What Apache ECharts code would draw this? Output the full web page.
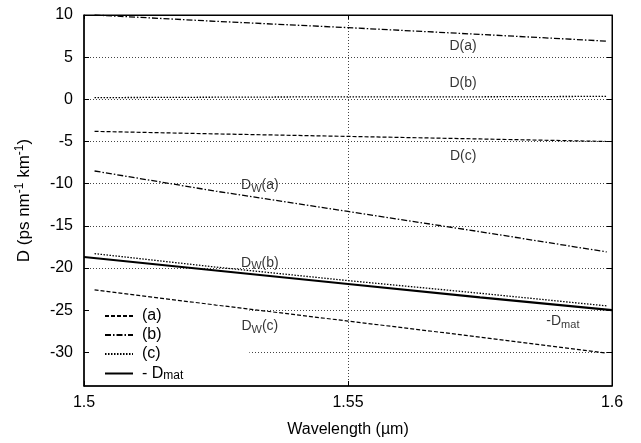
<!DOCTYPE html>
<html>
<head>
<meta charset="utf-8">
<script src="https://cdn.jsdelivr.net/npm/echarts@6/dist/echarts.min.js"></script>
<style>html,body{margin:0;padding:0;background:#fff}#c{width:641px;height:443px}</style>
</head>
<body>
<div id="c"></div>
<script>
// Wavelength (µm) sample points
const wlCurves = [1.502, 1.525, 1.55, 1.575, 1.599];
const wlMat = [1.5, 1.525, 1.55, 1.575, 1.6];
// D values (ps nm^-1 km^-1)
const dashDotUpper = [10.0, 9.25, 8.5, 7.7, 6.9];      // D(a)
const dottedUpper = [0.2, 0.25, 0.3, 0.3, 0.35];        // D(b)
const dashedUpper = [-3.8, -4.1, -4.4, -4.7, -5.0];     // D(c)
const dashDotLower = [-8.5, -10.9, -13.3, -15.7, -18.1]; // DW(a)
const dottedLower = [-18.3, -19.9, -21.5, -23.0, -24.5]; // DW(b)
const dashedLower = [-22.6, -24.4, -26.3, -28.2, -30.1]; // DW(c)
const minusDmat = [-18.7, -20.3, -21.9, -23.5, -25.0];   // -Dmat

const yTicks = [-30, -25, -20, -15, -10, -5, 0, 5, 10];
const yGrid = [-30, -25, -20, -15, -10, -5, 0, 5];
const xTicks = [1.5, 1.55, 1.6];
const xGrid = [1.55];

const curveLabelText = ['D(a)', 'D(b)', 'D(c)', '{m|D}{sub|W}{m|(a)}', '{m|D}{sub|W}{m|(b)}', '{m|D}{sub|W}{m|(c)}', '{m|-D}{sub|mat}'];
const curveLabelX = [1.5718, 1.5718, 1.5718, 1.5333, 1.5333, 1.5333, 1.5907];
const curveLabelY = [6.34, 1.86, -6.75, -10.2, -19.4, -26.9, -26.3];

const FONT = 'Liberation Sans, Arial, Helvetica, sans-serif';
const richSub = {
  m: {fontSize: 14, fontFamily: FONT, color: '#000', lineHeight: 16},
  sub: {fontSize: 11, fontFamily: FONT, color: '#000', padding: [7, 0, 0, 0], lineHeight: 16}
};

const DASH = [4, 2];
const DASHDOT = [6, 2, 1.5, 2];
const DOT = [1.5, 1.5];

function pairs(xs, ys) { return xs.map((x, i) => [x, ys[i]]); }

function lineSeries(name, xs, ys, type, width) {
  return {
    name: name, type: 'line', data: pairs(xs, ys), showSymbol: false, symbol: 'none',
    lineStyle: {color: '#000', width: width, type: type}, itemStyle: {color: '#000'},
    silent: true, z: 12
  };
}

const chart = echarts.init(document.getElementById('c'), null, {renderer: 'canvas'});

const series = [
  lineSeries('(b)', wlCurves, dashDotUpper, DASHDOT, 1.3),
  lineSeries('(c)', wlCurves, dottedUpper, DOT, 1.3),
  lineSeries('(a)', wlCurves, dashedUpper, DASH, 1.2),
  lineSeries('(b)', wlCurves, dashDotLower, DASHDOT, 1.3),
  lineSeries('(c)', wlCurves, dottedLower, DOT, 1.3),
  lineSeries('(a)', wlCurves, dashedLower, DASH, 1.2),
  lineSeries('- Dmat', wlMat, minusDmat, 'solid', 2.2),
  {
    name: 'grid', type: 'line', data: [], silent: true, z: 1,
    markLine: {
      silent: true, symbol: 'none', label: {show: false}, animation: false, z: 1,
      lineStyle: {color: '#444', width: 1, type: [1, 2]},
      data: yGrid.map(v => ({yAxis: v})).concat(xGrid.map(v => ({xAxis: v})))
    }
  },
  {
    name: 'labels', type: 'scatter', symbolSize: 0, silent: true, z: 12,
    data: curveLabelText.map((t, i) => ({value: [curveLabelX[i], curveLabelY[i]], name: t})),
    label: {
      show: true, position: 'inside', color: '#000', formatter: p => p.name.indexOf('{') >= 0 ? p.name : '{m|' + p.name + '}',
      rich: richSub
    }
  }
];

chart.setOption({
  animation: false,
  backgroundColor: '#fff',
  grid: {left: 84, right: 29, top: 15, bottom: 56, show: true, borderColor: '#000', borderWidth: 1},
  legend: {
    data: ['(a)', '(b)', '(c)', '- Dmat'],
    orient: 'vertical', left: 87, top: 306,
    padding: [2, 66, 0, 17],
    backgroundColor: '#fff',
    itemWidth: 28, itemHeight: 2, itemGap: 3,
    itemStyle: {color: 'rgba(0,0,0,0)', borderColor: 'rgba(0,0,0,0)', borderWidth: 0},
    textStyle: {fontFamily: FONT, fontSize: 16, color: '#000', rich: {
      m: {fontSize: 16, fontFamily: FONT, color: '#000', lineHeight: 16, padding: [0, 0, 0, 4]},
      sub: {fontSize: 12, fontFamily: FONT, color: '#000', padding: [5, 0, 0, 0], lineHeight: 16}
    }},
    formatter: n => n === '- Dmat' ? '{m|- D}{sub|mat}' : '{m|' + n + '}',
    z: 6
  },
  xAxis: [{
    type: 'value', min: 1.5, max: 1.6, position: 'bottom', z: 20,
    name: 'Wavelength (µm)', nameLocation: 'middle', nameGap: 36,
    nameTextStyle: {fontFamily: FONT, fontSize: 16, color: '#000'},
    axisLine: {show: true, onZero: false, lineStyle: {color: '#000', width: 1.5}},
    axisTick: {show: true, inside: true, length: 5, customValues: xTicks, lineStyle: {color: '#000'}},
    axisLabel: {customValues: xTicks, fontFamily: FONT, fontSize: 16, color: '#000', margin: 9, formatter: v => String(v)},
    splitLine: {show: false}
  }, {
    type: 'value', min: 1.5, max: 1.6, position: 'top', z: 20,
    axisLine: {show: true, onZero: false, lineStyle: {color: '#000', width: 1}},
    axisTick: {show: true, inside: true, length: 4, customValues: xTicks, lineStyle: {color: '#000'}},
    axisLabel: {show: false}, splitLine: {show: false}
  }],
  yAxis: [{
    type: 'value', min: -34, max: 10, position: 'left', z: 20,
    name: 'D (ps nm{sup|-1} km{sup|-1})', nameLocation: 'middle', nameGap: 50, nameRotate: 90,
    nameTextStyle: {fontFamily: FONT, fontSize: 17, color: '#000', rich: {
      sup: {fontSize: 12, fontFamily: FONT, color: '#000', padding: [0, 0, 8, 0]}
    }},
    axisLine: {show: true, onZero: false, lineStyle: {color: '#000', width: 1.5}},
    axisTick: {show: true, inside: true, length: 5, customValues: yTicks, lineStyle: {color: '#000'}},
    axisLabel: {customValues: yTicks, fontFamily: FONT, fontSize: 16, color: '#000', margin: 11},
    splitLine: {show: false}
  }, {
    type: 'value', min: -34, max: 10, position: 'right', z: 20,
    axisLine: {show: true, onZero: false, lineStyle: {color: '#000', width: 1}},
    axisTick: {show: true, inside: true, length: 5, customValues: yTicks, lineStyle: {color: '#000'}},
    axisLabel: {show: false}, splitLine: {show: false}
  }],
  series: series
});
</script>
</body>
</html>
